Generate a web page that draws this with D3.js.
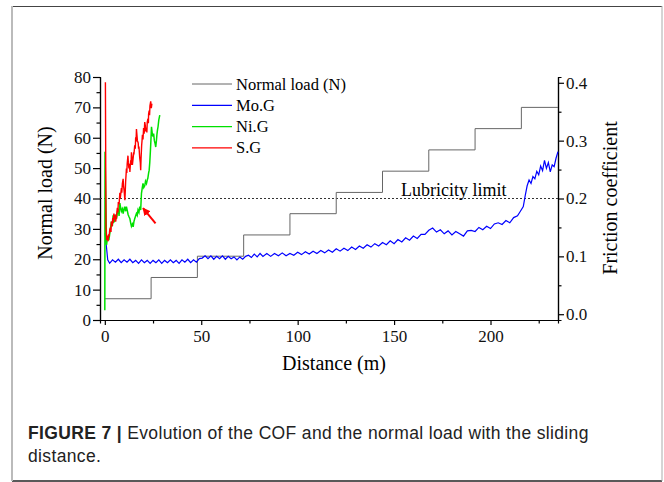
<!DOCTYPE html>
<html>
<head>
<meta charset="utf-8">
<script src="https://cdn.jsdelivr.net/npm/d3@7"></script>
<style>
  body { margin: 0; background: #fff; }
  svg { display: block; }
  .tick text { font-family: "Liberation Serif", "Times New Roman", serif; font-size: 17px; fill: #111; }
</style>
</head>
<body>
<svg id="chart" width="664" height="482"></svg>
<script>
// normal load steps (distance where step starts, load N)
var loadStart = [0, 24, 48, 72, 96, 120, 144, 168, 192, 216];
var loadValue = [7, 14, 21, 28, 35, 42, 49, 56, 63, 70];
var loadEnd = 235;

// Mo.G friction coefficient [distance m, COF]
var moG = [
  [0.2,0.140],[0.8,0.118],[1.5,0.094],[2.5,0.088],[4,0.094],[5.5,0.090],[7,0.095],[8.5,0.089],
  [10,0.094],[11.5,0.090],[13,0.095],[14.5,0.089],[16,0.093],[17.5,0.088],[19,0.094],[20.5,0.089],
  [22,0.093],[23.5,0.088],[25,0.093],[26.5,0.089],[28,0.094],[29.5,0.088],[31,0.093],[32.5,0.089],
  [34,0.094],[35.5,0.089],[37,0.093],[38.5,0.088],[40,0.094],[41.5,0.090],[43,0.095],[44.5,0.089],
  [46,0.094],[47.5,0.090],[49,0.096],[50.5,0.097],[52,0.101],[53.5,0.096],[55,0.101],[56.5,0.095],
  [58,0.100],[59.5,0.096],[61,0.101],[62.5,0.095],[64,0.100],[65.5,0.096],[67,0.099],[68.5,0.094],
  [70,0.099],[71.5,0.095],[73,0.100],[74.5,0.102],[76,0.098],[77.5,0.104],[79,0.099],[80.5,0.105],
  [82,0.100],[84,0.105],[86,0.100],[88,0.105],[90,0.101],[92,0.106],[94,0.101],[96,0.105],
  [98,0.102],[100,0.107],[102,0.103],[104,0.108],[106,0.104],[108,0.109],[110,0.105],[112,0.110],
  [114,0.106],[116,0.111],[118,0.107],[120,0.113],[122,0.109],[124,0.114],[126,0.110],[128,0.116],
  [130,0.112],[132,0.118],[134,0.114],[136,0.120],[138,0.116],[140,0.122],[142,0.118],[144,0.124],
  [146,0.120],[148,0.127],[150,0.122],[152,0.129],[154,0.125],[156,0.132],[158,0.128],[160,0.135],
  [162,0.131],[164,0.138],[166,0.138],[168,0.145],[170,0.149],[172,0.142],[174,0.146],[176,0.139],
  [178,0.144],[180,0.137],[182,0.143],[184,0.139],[186,0.135],[188,0.144],[190,0.145],[192,0.143],
  [194,0.150],[196,0.146],[198,0.152],[200,0.148],[202,0.156],[204,0.158],[206,0.155],[208,0.162],
  [210,0.158],[212,0.167],[214,0.170],[215.5,0.178],[217,0.186],[218,0.205],[219,0.222],[220,0.232],
  [221,0.226],[222,0.238],[223,0.234],[224,0.247],[225,0.241],[226,0.256],[227,0.248],[228,0.266],
  [229,0.252],[230,0.262],[231,0.246],[232,0.258],[233,0.255],[234,0.270],[235,0.281]
];

// Ni.G friction coefficient
var niG = [
  [0.0,0.007],[0.1,0.281],[0.9,0.120],[1.5,0.135],[2.1,0.128],[2.6,0.140],[3.0,0.150],[3.4,0.160],
  [3.9,0.152],[4.3,0.171],[4.8,0.160],[5.2,0.162],[5.7,0.172],[6.1,0.165],[6.6,0.178],[7.0,0.180],
  [7.4,0.170],[7.8,0.192],[8.2,0.184],[8.6,0.178],[9.1,0.182],[9.5,0.174],[9.9,0.181],[10.3,0.186],
  [10.8,0.178],[11.2,0.186],[11.6,0.180],[12.1,0.172],[12.6,0.168],[13.0,0.165],[13.4,0.158],[13.8,0.152],
  [14.3,0.156],[14.7,0.151],[15.1,0.160],[15.5,0.165],[16.0,0.170],[16.4,0.174],[16.8,0.171],[17.2,0.180],
  [17.7,0.176],[18.1,0.186],[18.6,0.180],[19.0,0.209],[19.4,0.218],[19.8,0.226],[20.2,0.219],[20.7,0.222],
  [21.1,0.230],[21.6,0.226],[22.0,0.232],[22.3,0.235],[22.7,0.244],[23.0,0.249],[23.3,0.262],[23.6,0.280],
  [23.9,0.300],[24.2,0.324],[24.6,0.312],[25.0,0.307],[25.3,0.312],[25.7,0.300],[26.0,0.296],[26.4,0.289],
  [26.7,0.298],[27.0,0.310],[27.3,0.318],[27.6,0.324],[28.0,0.336],[28.5,0.344]
];

// S.G friction coefficient
var sG = [
  [0.3,0.401],[0.6,0.150],[1.0,0.128],[1.4,0.136],[1.7,0.126],[2.0,0.138],[2.2,0.134],[2.6,0.147],
  [3.0,0.150],[3.2,0.142],[3.4,0.160],[3.8,0.152],[4.1,0.166],[4.3,0.158],[4.7,0.174],[5.0,0.164],
  [5.2,0.172],[5.6,0.160],[6.1,0.170],[6.3,0.178],[6.5,0.184],[6.8,0.176],[7.0,0.194],[7.4,0.190],
  [7.8,0.210],[8.0,0.200],[8.2,0.206],[8.6,0.218],[8.8,0.210],[9.1,0.226],[9.5,0.234],[9.7,0.222],
  [10.0,0.214],[10.4,0.197],[10.6,0.212],[10.8,0.230],[11.0,0.240],[11.2,0.252],[11.4,0.244],[11.6,0.260],
  [12.0,0.274],[12.2,0.262],[12.5,0.252],[12.8,0.260],[13.0,0.246],[13.4,0.266],[13.6,0.258],[13.8,0.280],
  [14.1,0.268],[14.3,0.258],[14.7,0.270],[15.0,0.280],[15.1,0.276],[15.5,0.292],[15.8,0.286],[16.0,0.306],
  [16.2,0.298],[16.4,0.320],[16.7,0.308],[16.9,0.300],[17.3,0.296],[17.5,0.286],[17.7,0.290],[18.1,0.270],
  [18.4,0.262],[18.6,0.249],[18.8,0.270],[19.1,0.292],[19.3,0.300],[19.5,0.310],[19.8,0.302],[20.1,0.322],
  [20.4,0.312],[20.7,0.332],[21.0,0.326],[21.2,0.316],[21.6,0.322],[21.8,0.314],[22.0,0.332],[22.4,0.338],
  [22.6,0.330],[22.7,0.346],[23.0,0.352],[23.2,0.344],[23.4,0.360],[23.8,0.368],[24.1,0.356],[24.4,0.364]
];

var lubricityLimit = 40;
var arrowFrom = [26.3, 31.8], arrowTo = [19.8, 36.8];

var xTicks = [0, 50, 100, 150, 200];
var yLTicks = [0, 10, 20, 30, 40, 50, 60, 70, 80];
var yRTicks = [0.0, 0.1, 0.2, 0.3, 0.4];

var series = [
  {name: "Normal load (N)", color: "#666"},
  {name: "Mo.G", color: "#0000ff"},
  {name: "Ni.G", color: "#00e000"},
  {name: "S.G", color: "#ff0000"}
];

var svg = d3.select("#chart");
var serif = "Liberation Serif, Times New Roman, serif";
var sans = "Liberation Sans, Arial, sans-serif";

// figure frame
svg.append("line").attr("x1", 12).attr("x2", 662).attr("y1", 6.5).attr("y2", 6.5).attr("stroke", "#444");
svg.append("line").attr("x1", 12).attr("x2", 662).attr("y1", 481).attr("y2", 481).attr("stroke", "#222").attr("stroke-width", 1.5);
svg.append("line").attr("x1", 12).attr("x2", 12).attr("y1", 6).attr("y2", 481).attr("stroke", "#bbb").attr("stroke-width", 2);
svg.append("line").attr("x1", 662).attr("x2", 662).attr("y1", 6).attr("y2", 481).attr("stroke", "#aaa").attr("stroke-width", 1);

var x = d3.scaleLinear().domain([-2.5, 235]).range([100, 558]);
var yL = d3.scaleLinear().domain([0, 80]).range([320, 77]);
var yR = d3.scaleLinear().domain([-0.01, 0.41]).range([320, 77]);

function styleAxis(g) {
  g.selectAll("path").attr("stroke", "#000").attr("stroke-width", 1.2);
  g.selectAll("line").attr("stroke", "#000").attr("stroke-width", 1.2);
}

// minor ticks
function minor(axisFn, scale, vals, tx, ty) {
  svg.append("g").attr("transform", "translate(" + tx + "," + ty + ")")
    .call(axisFn(scale).tickValues(vals).tickSize(3.5).tickFormat(""))
    .call(styleAxis);
}
minor(d3.axisBottom, x, [25, 75, 125, 175, 225], 0, 320);
minor(d3.axisLeft, yL, [5, 15, 25, 35, 45, 55, 65, 75], 100, 0);
minor(d3.axisRight, yR, [0.05, 0.15, 0.25, 0.35], 558, 0);

svg.append("g").attr("transform", "translate(0,320)")
  .call(d3.axisBottom(x).tickValues(xTicks).tickSize(5).tickSizeOuter(0).tickPadding(5))
  .call(styleAxis);
svg.append("g").attr("transform", "translate(100,0)")
  .call(d3.axisLeft(yL).tickValues(yLTicks).tickSize(7).tickSizeOuter(0).tickPadding(2))
  .call(styleAxis);
svg.append("g").attr("transform", "translate(558,0)")
  .call(d3.axisRight(yR).tickValues(yRTicks).tickSize(6).tickSizeOuter(0).tickPadding(2).tickFormat(d3.format(".1f")))
  .call(styleAxis);

// axis titles
svg.append("text").attr("x", 334).attr("y", 370).attr("text-anchor", "middle")
  .attr("font-family", serif).attr("font-size", 20).text("Distance (m)");
svg.append("text").attr("transform", "translate(52,193) rotate(-90)").attr("text-anchor", "middle")
  .attr("font-family", serif).attr("font-size", 20).text("Normal load (N)");
svg.append("text").attr("transform", "translate(617,198) rotate(-90)").attr("text-anchor", "middle")
  .attr("font-family", serif).attr("font-size", 20).text("Friction coefficient");

// lubricity limit
svg.append("line").attr("x1", x.range()[0]).attr("x2", x.range()[1])
  .attr("y1", yL(lubricityLimit)).attr("y2", yL(lubricityLimit))
  .attr("stroke", "#333").attr("stroke-width", 1).attr("stroke-dasharray", "2,2");
svg.append("text").attr("x", 401).attr("y", yL(lubricityLimit) - 3)
  .attr("font-family", serif).attr("font-size", 18).text("Lubricity limit");

// normal load step line
var loadPts = loadStart.map((s, i) => [s, loadValue[i]]);
loadPts.push([loadEnd, loadValue[loadValue.length - 1]]);
svg.append("path").datum(loadPts)
  .attr("d", d3.line().x(d => x(d[0])).y(d => yL(d[1])).curve(d3.curveStepAfter))
  .attr("fill", "none").attr("stroke", series[0].color).attr("stroke-width", 1);

var cofLine = d3.line().x(d => x(d[0])).y(d => yR(d[1]));
svg.append("path").datum(moG).attr("d", cofLine)
  .attr("fill", "none").attr("stroke", series[1].color).attr("stroke-width", 1.2);
svg.append("path").datum(niG).attr("d", cofLine)
  .attr("fill", "none").attr("stroke", series[2].color).attr("stroke-width", 1.5);
svg.append("path").datum(sG).attr("d", cofLine)
  .attr("fill", "none").attr("stroke", series[3].color).attr("stroke-width", 1.4);

// red arrow
svg.append("defs").append("marker").attr("id", "ah")
  .attr("viewBox", "0 0 10 10").attr("refX", 9).attr("refY", 5)
  .attr("markerWidth", 4).attr("markerHeight", 4).attr("orient", "auto")
  .append("path").attr("d", "M0,0L10,5L0,10z").attr("fill", "#f00");
svg.append("line")
  .attr("x1", x(arrowFrom[0])).attr("y1", yL(arrowFrom[1]))
  .attr("x2", x(arrowTo[0])).attr("y2", yL(arrowTo[1]))
  .attr("stroke", "#f00").attr("stroke-width", 2).attr("marker-end", "url(#ah)");

// legend
var leg = svg.append("g").attr("transform", "translate(192,84)");
series.forEach(function(s, i) {
  var row = leg.append("g").attr("transform", "translate(0," + (i * 21.3) + ")");
  row.append("line").attr("x1", 0).attr("x2", 40).attr("stroke", s.color).attr("stroke-width", i == 0 ? 1 : 1.3);
  row.append("text").attr("x", 44).attr("y", 5.5)
    .attr("font-family", serif).attr("font-size", 16.5).text(s.name);
});

// caption
var cap = svg.append("text").attr("x", 28).attr("y", 439)
  .attr("font-family", sans).attr("font-size", 17.5).attr("letter-spacing", 0.35).attr("fill", "#222");
cap.append("tspan").attr("font-weight", "bold").text("FIGURE 7 | ");
cap.append("tspan").text("Evolution of the COF and the normal load with the sliding");
svg.append("text").attr("x", 28).attr("y", 462)
  .attr("font-family", sans).attr("font-size", 17.5).attr("letter-spacing", 0.35).attr("fill", "#222")
  .text("distance.");
</script>
</body>
</html>
